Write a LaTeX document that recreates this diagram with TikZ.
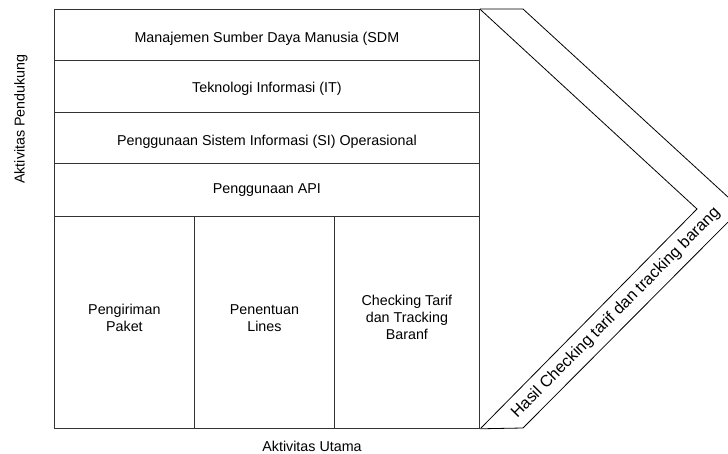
\documentclass[tikz,border=0pt]{standalone}
\usepackage{fontspec}
\setmainfont{Liberation Sans}
% shift a cell text vertically while keeping its box size
\newcommand{\shifttext}[2]{\raisebox{#1}[\height][\depth]{#2}}
\newcommand{\cellstack}[1]{\begin{tabular}{@{}c@{}}#1\end{tabular}}
\begin{document}
\begin{tikzpicture}[x=1pt, y=-1pt,
  every node/.style={font=\fontsize{14.3}{17}\selectfont},
  cell/.style={draw=black!80, line width=0.8pt, inner sep=0pt, anchor=north west, align=center},
  edge/.style={draw=black, line width=0.8pt, line join=miter}]
\useasboundingbox (0,0) rectangle (728,454);

% support activities (stacked rows)
\node[cell, minimum width=425pt, minimum height=51pt] (sdm) at (54,9) {\shifttext{-4pt}{Manajemen Sumber Daya Manusia (SDM}};
\node[cell, minimum width=425pt, minimum height=52pt] (it) at (54,60) {\shifttext{-2pt}{Teknologi Informasi (IT)}};
\node[cell, minimum width=425pt, minimum height=51pt] (si) at (54,112) {\shifttext{-4pt}{Penggunaan Sistem Informasi (SI) Operasional}};
\node[cell, minimum width=425pt, minimum height=53pt] (api) at (54,163) {Penggunaan API};

% primary activities (columns)
\node[cell, minimum width=140pt, minimum height=212pt] (kirim) at (54,216) {\shifttext{2.5pt}{\cellstack{Pengiriman\\Paket}}};
\node[cell, minimum width=140pt, minimum height=212pt] (lines) at (194,216) {\shifttext{2.5pt}{\cellstack{Penentuan\\Lines}}};
\node[cell, minimum width=145pt, minimum height=212pt] (cek) at (334,216) {\shifttext{3pt}{\cellstack{Checking Tarif\\dan Tracking\\Baranf}}};

% margin chevron
\coordinate (otop) at (523,9);
\coordinate (otip) at (741,209);
\coordinate (obot) at (523,428);
\coordinate (itip) at (697,209);
\coordinate (ibot) at (481,428);
\draw[edge] (sdm.north east) -- (otop) -- (otip) -- (obot) -- (cek.south east);
\draw[edge] (sdm.north east) -- (itip) -- (ibot);

% axis labels
\node[rotate=90] (pendukung) at (21,119) {Aktivitas Pendukung};
\node (utama) at (312,446) {Aktivitas Utama};
\node[rotate=45.3, font=\fontsize{16.3}{19}\selectfont] (hasil) at (616,313) {Hasil Checking tarif dan tracking barang};
\end{tikzpicture}
\end{document}
